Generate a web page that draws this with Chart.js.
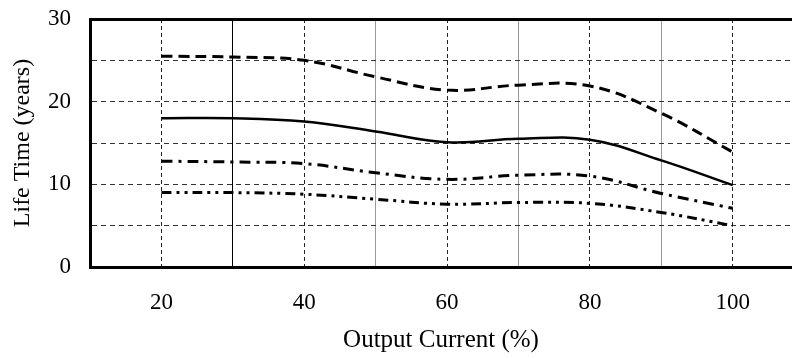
<!DOCTYPE html>
<html>
<head>
<meta charset="utf-8">
<script src="https://cdn.jsdelivr.net/npm/chart.js@4"></script>
<style>
  html, body { margin: 0; padding: 0; background: #fff; overflow: hidden; }
</style>
</head>
<body>
<canvas id="life-chart" width="792" height="359"></canvas>
<script>
// Output current (%) where the curves were read
const outputCurrent = [20, 30, 40, 50, 60, 70, 80, 90, 100];

// Life time (years) for the four curves, top to bottom
const lifeLongDash = [25.5, 25.4, 25.0, 23.0, 21.4, 22.0, 21.9, 18.6, 13.9];
const lifeSolid = [18.0, 18.0, 17.6, 16.4, 15.1, 15.5, 15.4, 12.9, 9.9];
const lifeDashDot = [12.8, 12.7, 12.5, 11.4, 10.6, 11.1, 11.0, 8.9, 7.1];
const lifeDashDotDot = [9.0, 9.0, 8.8, 8.2, 7.6, 7.8, 7.7, 6.6, 5.0];

// tick positions (labels only on some of them)
const xTicks = [10, 20, 30, 40, 50, 60, 70, 80, 90, 100];
const yTicks = [0, 5, 10, 15, 20, 25, 30];

const serifFamily = '"Liberation Serif", "Times New Roman", serif';
const tickFont = { family: serifFamily, size: 23 };

const toPoints = arr => arr.map((y, i) => ({ x: outputCurrent[i], y }));

const makeSet = (label, values, dash, width) => ({
  label,
  data: toPoints(values),
  borderColor: '#000',
  borderWidth: width,
  borderDash: dash,
  pointRadius: 0,
  fill: false,
  tension: 0.4
});

const ctx = document.getElementById('life-chart');

new Chart(ctx, {
  type: 'line',
  data: {
    datasets: [
      makeSet('A', lifeLongDash, [11, 6], 3),
      makeSet('B', lifeSolid, [], 2.5),
      makeSet('C', lifeDashDot, [11, 6, 3, 6], 3),
      makeSet('D', lifeDashDotDot, [10, 5, 3, 5, 3, 5], 3)
    ]
  },
  options: {
    responsive: false,
    animation: false,
    devicePixelRatio: 1,
    layout: { padding: { top: 19, right: 0, bottom: 0, left: 0 } },
    plugins: {
      legend: { display: false },
      tooltip: { enabled: false }
    },
    scales: {
      x: {
        type: 'linear',
        min: 10,
        max: 108.3,
        afterBuildTicks: s => { s.ticks = xTicks.map(v => ({ value: v })); },
        afterFit: s => {
          s.height = 92;
          s.paddingLeft = 0;
          s.paddingRight = 0;
        },
        ticks: {
          autoSkip: false,
          maxRotation: 0,
          padding: 22,
          color: '#000',
          font: tickFont,
          callback: v => (v % 20 === 0 ? v : '')
        },
        grid: {
          drawTicks: false,
          lineWidth: c => (c.tick && c.tick.value === 10 ? 0 : 1),
          color: c => {
            if (!c.tick) return '#000';
            const v = c.tick.value;
            if (v === 30) return '#000';
            if (v % 20 === 10) return '#999';
            return '#222';
          }
        },
        border: {
          display: true,
          width: 3,
          color: '#000',
          dash: c => (c.tick && c.tick.value % 20 === 0 ? [4, 3] : [])
        },
        title: {
          display: true,
          text: 'Output Current (%)',
          color: '#000',
          font: { family: serifFamily, size: 25 },
          padding: { top: 0, bottom: 4 }
        }
      },
      y: {
        min: 0,
        max: 30,
        afterBuildTicks: s => { s.ticks = yTicks.map(v => ({ value: v })); },
        afterFit: s => {
          s.width = 90;
          s.paddingTop = 0;
          s.paddingBottom = 0;
        },
        ticks: {
          padding: 19,
          color: '#000',
          font: tickFont,
          callback: v => (v % 10 === 0 ? v : '')
        },
        grid: {
          drawTicks: false,
          lineWidth: c => {
            if (!c.tick) return 1;
            if (c.tick.value === 0) return 0;
            return c.tick.value === 30 ? 3 : 1;
          },
          color: c => (c.tick && c.tick.value === 30 ? '#000' : '#333')
        },
        border: {
          display: true,
          width: 3,
          color: '#000',
          dash: c => (c.tick && c.tick.value > 0 && c.tick.value < 30 ? [5, 4] : [])
        },
        title: {
          display: true,
          text: 'Life Time (years)',
          color: '#000',
          font: { family: serifFamily, size: 24 },
          padding: { top: 8, bottom: 0 }
        }
      }
    }
  }
});
</script>
</body>
</html>
